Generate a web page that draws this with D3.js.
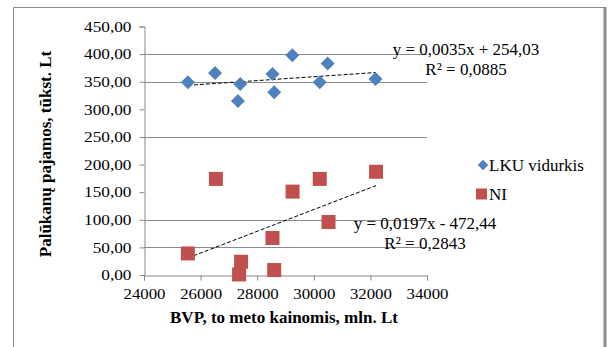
<!DOCTYPE html>
<html>
<head>
<meta charset="utf-8">
<script src="https://cdn.jsdelivr.net/npm/d3@7"></script>
<style>
    body { margin: 0; background: #fff; }
    svg text { font-family: "Liberation Serif", Tinos, "Times New Roman", Times, "DejaVu Serif", "Noto Serif", serif; fill: #000; }
</style>
</head>
<body>
<script>
// data
const lkuX = [25550, 26510, 27400, 27320, 28540, 28600, 29240, 30210, 30490, 32180];
const lkuY = [349, 366, 346, 315, 364, 331, 398, 349, 383, 355];
const niX = [25550, 26540, 27430, 27360, 28540, 28600, 29250, 30210, 30520, 32200];
const niY = [39, 174, 24, 1, 67, 9, 151, 174, 96, 187];

// trend line coefficients (slope, intercept, r2)
const lkuTrend = [0.0035, 254.03, 0.0885];
const niTrend = [0.0197, -472.44, 0.2843];

const xTicks = [24000, 26000, 28000, 30000, 32000, 34000];
const yTicks = [0, 50, 100, 150, 200, 250, 300, 350, 400, 450];
const yGrid = [50, 100, 250, 350, 400];

const seriesNames = ["LKU vidurkis", "NI"];
const colors = ["#4F81BD", "#C0504D"];

const serif = '"Liberation Serif", Tinos, "Times New Roman", Times, "DejaVu Serif", "Noto Serif", serif';
const width = 608, height = 347;

const svg = d3.select("body").append("svg")
    .attr("width", width)
    .attr("height", height)
    .attr("font-family", serif);

// chart border
svg.append("path")
    .attr("d", "M13.5,347 V7.5 H604.5 V347")
    .attr("fill", "none")
    .attr("stroke", "#8c8c8c")
    .attr("stroke-width", 1);
svg.append("line")
    .attr("x1", 605).attr("x2", 605).attr("y1", 7).attr("y2", 347)
    .attr("stroke", "#8c8c8c").attr("stroke-width", 3);

const x = d3.scaleLinear().domain([24000, 34000]).range([144, 427]);
const y = d3.scaleLinear().domain([0, 450]).range([275, 26.5]);

const fmt = d => d3.format(".2f")(d).replace(".", ",");

// gridlines
svg.append("g")
    .selectAll("line")
    .data(yGrid)
    .enter().append("line")
    .attr("x1", x(24000)).attr("x2", x(34000))
    .attr("y1", d => Math.round(y(d)) + 0.5).attr("y2", d => Math.round(y(d)) + 0.5)
    .attr("stroke", "#8a8a8a");

// y axis
const yAxis = svg.append("g")
    .attr("transform", "translate(" + (Math.round(x(24000)) + 0.5) + ",0)")
    .call(d3.axisLeft(y).tickValues(yTicks).tickSize(5).tickPadding(9).tickFormat(fmt));

// x axis
const xAxis = svg.append("g")
    .attr("transform", "translate(0," + (Math.round(y(0)) + 0.5) + ")")
    .call(d3.axisBottom(x).tickValues(xTicks).tickSize(5).tickPadding(8).tickFormat(d3.format("d")));

[yAxis, xAxis].forEach(function(a) {
    a.attr("font-family", serif).attr("font-size", 15);
    a.select(".domain").attr("stroke", "#8a8a8a");
    a.selectAll(".tick line").attr("stroke", "#8a8a8a");
    a.selectAll("text").attr("fill", "#000");
});

// stretch tick labels a little, like the picture
yAxis.selectAll(".tick text")
    .attr("x", 0)
    .attr("transform", "translate(-13,0) scale(1.15,1)");
xAxis.selectAll(".tick text")
    .attr("transform", "scale(1.12,1)");

// trend lines
function trendLine(xs, tr) {
    const x0 = d3.min(xs), x1 = d3.max(xs);
    svg.append("line")
        .attr("x1", x(x0)).attr("y1", y(tr[0] * x0 + tr[1]))
        .attr("x2", x(x1)).attr("y2", y(tr[0] * x1 + tr[1]))
        .attr("stroke", "#000")
        .attr("stroke-width", 1)
        .attr("stroke-dasharray", "4,2");
}
trendLine(lkuX, lkuTrend);
trendLine(niX, niTrend);

// LKU diamonds
svg.append("g")
    .selectAll("path")
    .data(lkuX.map((d, i) => [d, lkuY[i]]))
    .enter().append("path")
    .attr("d", d3.symbol().type(d3.symbolSquare).size(98))
    .attr("transform", d => "translate(" + x(d[0]) + "," + y(d[1]) + ") rotate(45)")
    .attr("fill", colors[0]);

// NI squares
svg.append("g")
    .selectAll("rect")
    .data(niX.map((d, i) => [d, niY[i]]))
    .enter().append("rect")
    .attr("x", d => x(d[0]) - 7)
    .attr("y", d => y(d[1]) - 7)
    .attr("width", 14)
    .attr("height", 14)
    .attr("fill", colors[1]);

// trend equations
function eq(tr, cx, cy) {
    const sign = tr[1] < 0 ? " - " : " + ";
    svg.append("text")
        .attr("x", cx).attr("y", cy)
        .attr("text-anchor", "middle")
        .style("font-size", "17px")
        .text("y = " + String(tr[0]).replace(".", ",") + "x" + sign + fmt(Math.abs(tr[1])));
    svg.append("text")
        .attr("x", cx).attr("y", cy + 20)
        .attr("text-anchor", "middle")
        .style("font-size", "17px")
        .text("R² = " + d3.format(".4f")(tr[2]).replace(".", ","));
}
eq(lkuTrend, 466, 55);
eq(niTrend, 425, 229);

// legend
const legend = svg.append("g");
legend.append("path")
    .attr("d", d3.symbol().type(d3.symbolSquare).size(55))
    .attr("transform", "translate(483,165) rotate(45)")
    .attr("fill", colors[0]);
legend.append("rect")
    .attr("x", 476).attr("y", 188.5).attr("width", 11).attr("height", 11)
    .attr("fill", colors[1]);
legend.selectAll("text")
    .data(seriesNames)
    .enter().append("text")
    .attr("x", 489)
    .attr("y", (d, i) => 171 + i * 29)
    .style("font-size", "17px")
    .text(d => d);

// axis titles
svg.append("text")
    .attr("x", 284).attr("y", 323)
    .attr("text-anchor", "middle")
    .style("font-size", "17px")
    .style("font-weight", "bold")
    .text("BVP, to meto kainomis, mln. Lt");

svg.append("text")
    .attr("transform", "translate(51,154) rotate(-90)")
    .attr("text-anchor", "middle")
    .style("font-size", "17px")
    .style("font-weight", "bold")
    .text("Palūkanų pajamos, tūkst. Lt");
</script>
</body>
</html>
